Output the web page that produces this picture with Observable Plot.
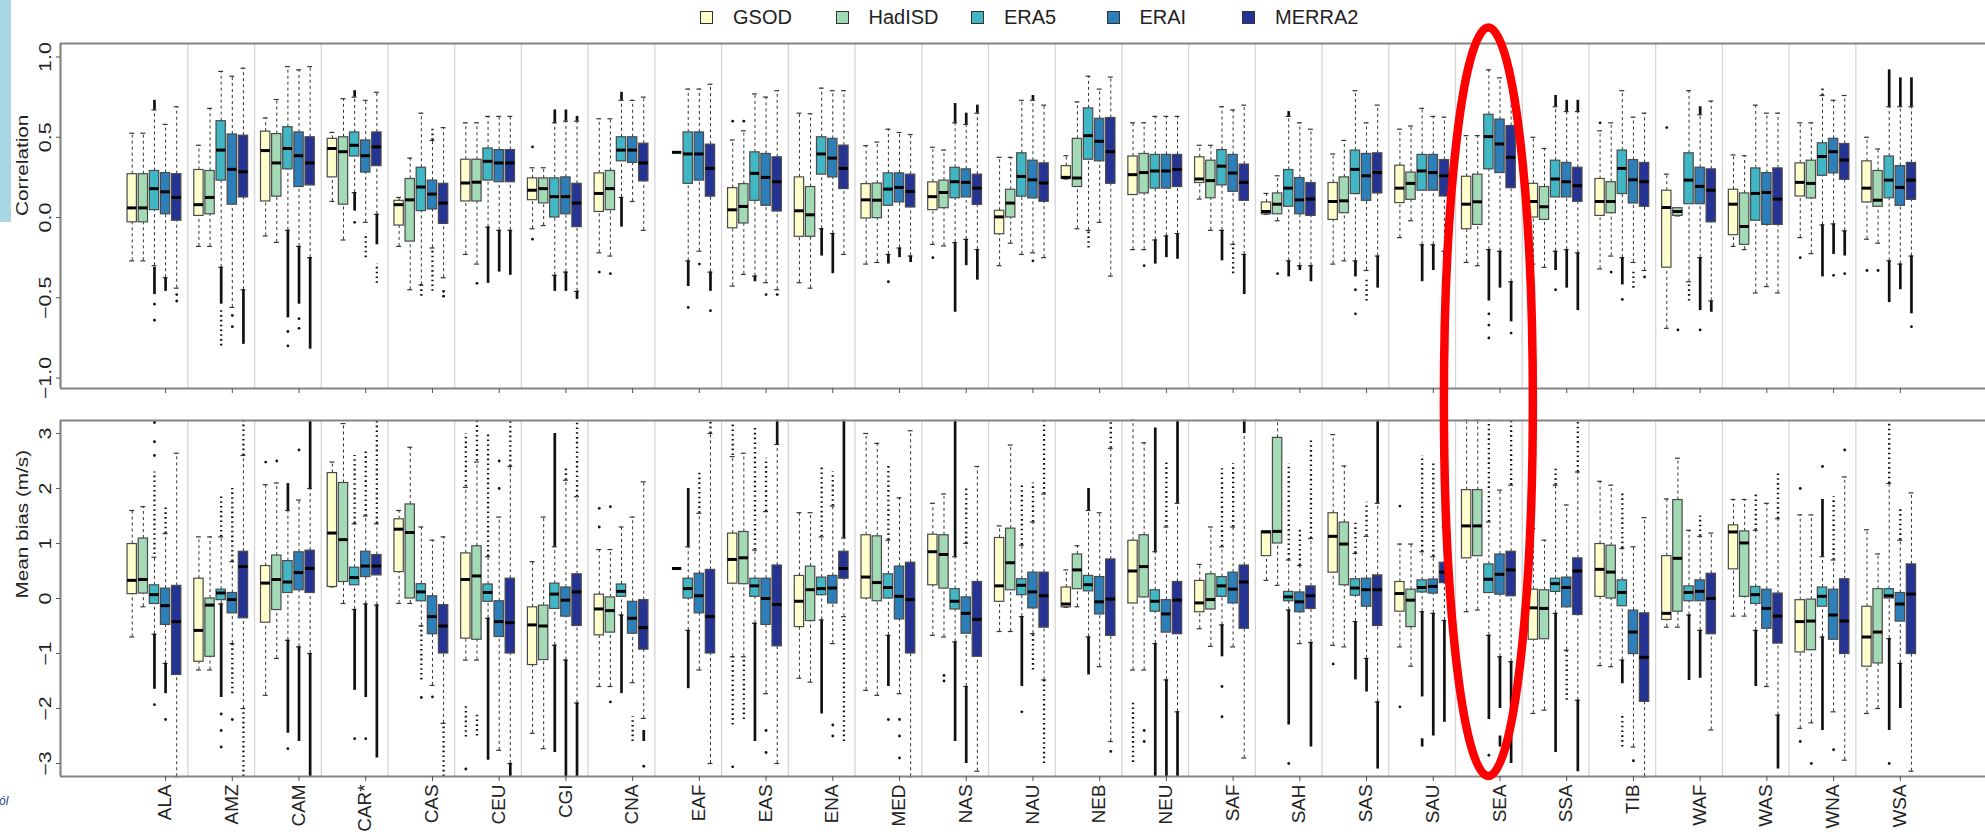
<!DOCTYPE html>
<html><head><meta charset="utf-8">
<script src="https://cdn.jsdelivr.net/npm/d3@7"></script>
<script src="https://cdn.jsdelivr.net/npm/@observablehq/plot@0.6"></script>
<style>
body{margin:0;background:#fff;font-family:"Liberation Sans",Arial,sans-serif;}
#wrap{position:relative;width:1985px;height:832px;overflow:hidden;background:#fff;}
#wrap svg.panel{position:absolute;left:0;}
.lg-sw{position:absolute;width:11px;height:11px;border:1px solid #333;top:11px;}
.lg-tx{position:absolute;top:5px;font-size:20px;line-height:24px;color:#222;}
</style></head><body><div id="wrap"></div>
<script>
const regions = ["ALA","AMZ","CAM","CAR*","CAS","CEU","CGI","CNA","EAF","EAS","ENA","MED","NAS","NAU","NEB","NEU","SAF","SAH","SAS","SAU","SEA","SSA","TIB","WAF","WAS","WNA","WSA"];
const datasets = ["GSOD","HadISD","ERA5","ERAI","MERRA2"];
const colors = ["#ffffcc","#a1dab4","#41b6c4","#2c7fb8","#253494"];
const corrTicks = [-1,-0.5,0,0.5,1];
const biasTicks = [-3,-2,-1,0,1,2,3];

// box stats per region: [lower whisker, Q1, median, Q3, upper whisker]
const corrGSOD = [
[-0.27,-0.03,0.06,0.27,0.525],[-0.18,0.01,0.08,0.296,0.45],[-0.115,0.1,0.417,0.535,0.62],[0.10,0.25,0.43,0.49,0.53],
[-0.18,-0.05,0.08,0.104,0.125],[-0.23,0.1,0.215,0.36,0.59],[-0.07,0.108,0.17,0.244,0.31],[-0.22,0.035,0.15,0.275,0.615],
null,[-0.427,-0.067,0.048,0.183,0.483],[-0.406,-0.12,0.042,0.25,0.65],[-0.29,-0.006,0.11,0.208,0.448],
[-0.167,0.046,0.13,0.219,0.4375],[-0.3,-0.104,0.004,0.042,0.375],[0.24,0.24,0.25,0.32,0.385],[-0.2,0.14,0.267,0.38,0.59],
[0.115,0.215,0.24,0.375,0.45],[0.02,0.02,0.0375,0.094,0.15],[-0.29,-0.015,0.1,0.215,0.396],[-0.125,0.09,0.183,0.323,0.55],
[-0.28,-0.073,0.083,0.254,0.51],[-0.29,0.0,0.1,0.21,0.5],[-0.32,0.01,0.1,0.24,0.54],[-0.69,-0.3125,0.0625,0.167,0.27],
[-0.18,-0.11,0.083,0.173,0.39],[-0.125,0.131,0.219,0.3375,0.59],[-0.135,0.094,0.183,0.35,0.5]];
const corrHadISD = [
[-0.27,-0.03,0.06,0.27,0.525],[-0.18,0.02,0.125,0.29,0.68],[-0.155,0.13,0.34,0.52,0.735],[-0.14,0.08,0.41,0.5,0.74],
[-0.45,-0.15,0.11,0.24,0.37],[-0.29,0.1,0.22,0.36,0.59],[-0.05,0.088,0.18,0.244,0.31],[-0.24,0.046,0.18,0.29,0.615],
[0.406,0.406,0.406,0.406,0.406],[-0.354,-0.037,0.069,0.208,0.54],[-0.44,-0.12,0.017,0.19,0.646],[-0.28,-0.004,0.108,0.212,0.47],
[-0.177,0.058,0.156,0.23,0.42],[-0.16,0.0,0.09,0.173,0.375],[-0.07,0.19,0.246,0.49,0.72],[-0.2,0.15,0.28,0.396,0.59],
[-0.08,0.12,0.23,0.354,0.45],[-0.02,0.02,0.083,0.15,0.26],[-0.27,0.027,0.104,0.25,0.48],[-0.02,0.11,0.2125,0.28,0.57],
[-0.3,-0.046,0.098,0.267,0.51],[-0.31,-0.015,0.067,0.19,0.43],[-0.24,0.027,0.1,0.22,0.59],[0.01,0.01,0.0375,0.058,0.058],
[-0.2,-0.17,-0.056,0.15,0.385],[-0.225,0.119,0.2125,0.354,0.59],[-0.16,0.067,0.108,0.29,0.427]];
const corrERA5 = [
[-0.3,0.046,0.18,0.29,0.67],[-0.31,0.23,0.42,0.6,0.91],[-0.08,0.3,0.43,0.5625,0.94],[0.155,0.38,0.45,0.53,0.75],
[-0.42,0.04,0.19,0.31,0.65],[-0.06,0.23,0.35,0.43,0.63],[-0.36,0.0,0.13,0.244,0.59],[0.125,0.35,0.42,0.5,0.73],
[-0.27,0.21,0.396,0.53,0.8],[-0.365,0.104,0.275,0.406,0.77],[-0.07,0.267,0.396,0.5,0.806],[-0.23,0.073,0.177,0.275,0.55],
[-0.156,0.12,0.223,0.31,0.59],[-0.23,0.13,0.256,0.4,0.73],[-0.08,0.36,0.51,0.68,0.88],[-0.14,0.18,0.29,0.39,0.63],
[-0.08,0.2,0.32,0.42,0.69],[-0.27,0.067,0.183,0.296,0.63],[-0.27,0.146,0.3,0.417,0.79],[-0.17,0.167,0.29,0.39,0.68],
[-0.2,0.3,0.504,0.64,0.92],[-0.21,0.125,0.24,0.354,0.69],[-0.25,0.146,0.306,0.417,0.79],[-0.4,0.083,0.233,0.4,0.79],
[-0.47,-0.02,0.15,0.306,0.7],[-0.046,0.26,0.38,0.4625,0.76],[-0.27,0.12,0.233,0.38,0.69]];
const corrERAI = [
[-0.375,0.02,0.16,0.277,0.58],[-0.56,0.08,0.3,0.517,0.88],[-0.18,0.19,0.385,0.53,0.92],[-0.03,0.28,0.385,0.48,0.73],
[-0.19,0.05,0.146,0.23,0.48],[-0.08,0.22,0.34,0.42,0.63],[-0.34,0.02,0.13,0.25,0.6],[0.1,0.34,0.42,0.5,0.73],
[-0.21,0.23,0.396,0.53,0.8],[-0.406,0.073,0.25,0.396,0.75],[-0.1,0.25,0.37,0.49,0.79],[-0.19,0.094,0.1875,0.275,0.53],
[-0.136,0.125,0.219,0.3,0.58],[-0.22,0.119,0.235,0.354,0.73],[-0.03,0.35,0.475,0.615,0.8],[-0.115,0.18,0.29,0.39,0.63],
[-0.167,0.16,0.277,0.39,0.67],[-0.3,0.02,0.11,0.246,0.59],[-0.33,0.104,0.26,0.396,0.59],[-0.17,0.167,0.28,0.39,0.63],
[-0.21,0.277,0.458,0.61,0.87],[-0.2,0.125,0.223,0.34,0.66],[-0.28,0.0875,0.235,0.358,0.625],[-0.25,0.083,0.194,0.31,0.64],
[-0.43,-0.046,0.156,0.277,0.65],[-0.04,0.275,0.41,0.49,0.73],[-0.29,0.073,0.1875,0.32,0.69]];
const corrMERRA2 = [
[-0.44,-0.02,0.125,0.27,0.69],[-0.45,0.125,0.285,0.51,0.93],[-0.25,0.2,0.34,0.5,0.94],[0.02,0.32,0.44,0.53,0.78],
[-0.375,-0.04,0.09,0.21,0.56],[-0.08,0.22,0.34,0.42,0.63],[-0.46,-0.06,0.09,0.21,0.6],[-0.08,0.225,0.34,0.46,0.75],
[-0.34,0.13,0.306,0.454,0.83],[-0.45,0.0375,0.223,0.375,0.79],[-0.23,0.177,0.306,0.448,0.79],[-0.24,0.0625,0.1625,0.267,0.517],
[-0.2,0.079,0.183,0.267,0.65],[-0.25,0.098,0.215,0.3375,0.7],[-0.365,0.21,0.41,0.62,0.875],[-0.1,0.19,0.3,0.39,0.63],
[-0.23,0.104,0.219,0.33,0.7],[-0.3,0.01,0.115,0.215,0.55],[-0.24,0.15,0.28,0.4,0.7],[-0.21,0.131,0.26,0.358,0.625],
[-0.4,0.183,0.375,0.57,0.9],[-0.22,0.098,0.198,0.31,0.66],[-0.33,0.067,0.223,0.34,0.65],[-0.52,-0.03,0.17,0.3,0.725],
[-0.47,-0.046,0.115,0.306,0.65],[-0.083,0.235,0.358,0.458,0.76],[-0.24,0.11,0.233,0.34,0.69]];

// outliers per region: number = single point, [a,b] = dense run, [a,b,1] = sparse run
const corrOutGSOD = [[],[],[],[],[],[],[0.44,-0.135],[-0.34],[],[0.6],[],[],[-0.25],[],[],[],[],[],[],[],[],[],[0.59],[0.56],[],[-0.25],[-0.33]];
const corrOutHadISD = [[],[],[],[],[],[-0.41],[],[-0.35],[],[0.6],[],[],[],[],[],[-0.3],[],[-0.35],[],[],[],[],[-0.34],[-0.7],[],[],[-0.33]];
const corrOutERA5 = [
[[-0.48,-0.31],[0.67,0.73],-0.54,-0.64],[[-0.54,-0.31],[-0.8,-0.58,1]],[[-0.625,-0.08],-0.71,-0.8],[[0.75,0.79],[0.04,0.155],-0.03],
[[-0.49,-0.42,1]],[[-0.41,-0.06]],[[0.59,0.67],[-0.46,-0.36]],[[0.73,0.78],[-0.06,0.125]],
[[-0.43,-0.27],-0.56],[[-0.4,-0.365]],[[-0.24,-0.07]],[[-0.29,-0.23],-0.4],
[[0.59,0.71],[-0.59,-0.156]],[],[[-0.19,-0.08,1]],[[-0.29,-0.14]],
[[-0.27,-0.08]],[[0.63,0.66],[-0.37,-0.27]],[[-0.37,-0.27],-0.45,-0.6],[[-0.4,-0.17]],
[[-0.52,-0.2],-0.6,-0.67,-0.75],[[0.69,0.76],[-0.33,-0.21],-0.45],[[-0.42,-0.25],-0.51],[[-0.52,-0.4,1]],
[],[[0.76,0.82,1],[-0.37,-0.046]],[[0.69,0.92],[-0.53,-0.27]]];
const corrOutERAI = [
[[-0.46,-0.375]],[-0.61,-0.68],[[-0.54,-0.18],-0.63,-0.69],[[-0.25,-0.1,1]],
[[0.48,0.57,1],[-0.46,-0.19,1]],[[-0.34,-0.08]],[[0.6,0.67],[-0.46,-0.34]],[],
[-0.29],[-0.48],[[-0.35,-0.1]],[[-0.25,-0.19]],
[[0.58,0.65],[-0.3,-0.136]],[[0.73,0.76],-0.27],[],[[-0.25,-0.115]],
[[-0.35,-0.167,1]],[[-0.33,-0.3]],[[-0.52,-0.38,1]],[[-0.33,-0.17]],
[[-0.44,-0.21]],[[0.66,0.73],[-0.44,-0.2]],[[-0.44,-0.32,1]],[[0.64,0.69],[-0.58,-0.25],-0.7],
[],[[-0.23,-0.04],-0.36],[[0.69,0.87],[-0.45,-0.29]]];
const corrOutMERRA2 = [
[-0.48,-0.52],[[-0.79,-0.45]],[[-0.82,-0.25]],[[-0.17,0.02],[-0.41,-0.29,1]],
[-0.46,-0.49],[[-0.36,-0.08]],[[0.6,0.63],[-0.51,-0.46]],[],
[[-0.46,-0.34],-0.58],[-0.48],[],[[-0.28,-0.24]],
[[0.65,0.7],[-0.39,-0.2]],[],[],[[-0.26,-0.1]],
[[-0.48,-0.23]],[[-0.4,-0.3]],[[-0.44,-0.24]],[[-0.44,-0.21]],
[[-0.65,-0.4],-0.72],[[0.66,0.73],[-0.58,-0.22]],[-0.37],[[-0.59,-0.52]],
[],[[-0.24,-0.083],-0.35],[[0.69,0.87],[-0.6,-0.24],-0.68]];

const biasGSOD = [
[-0.7,0.08,0.33,0.99,1.6],[-1.3,-1.15,-0.58,0.36,1.12],[-1.76,-0.44,0.28,0.59,2.07],[0.21,0.21,1.19,2.28,2.48],
[-0.09,0.48,1.26,1.44,1.6],[-1.12,-0.73,0.345,0.82,2.02],[-2.45,-1.21,-0.48,-0.16,0.67],[-1.6,-0.67,-0.19,0.07,0.89],
null,[-1.06,0.27,0.71,1.18,2.58],[-1.45,-0.52,-0.05,0.41,1.56],[-1.67,0.0,0.39,1.15,3.0],
[-0.67,0.24,0.85,1.16,1.73],[-0.6,-0.06,0.23,1.1,1.32],[-0.16,-0.16,-0.1,0.2,0.52],[-1.3,-0.09,0.5,1.05,3.24],
[-0.55,-0.25,-0.08,0.32,0.62],[0.33,0.77,1.21,1.22,1.22],[-0.85,0.47,1.13,1.55,2.98],[-0.88,-0.24,0.09,0.3,0.99],
[-0.24,0.73,1.32,1.97,3.24],[-2.09,-0.75,-0.17,0.16,1.27],[-1.22,0.03,0.53,0.99,2.13],[-0.52,-0.39,-0.27,0.77,1.81],
[-0.32,0.53,1.21,1.33,1.8],[-2.36,-0.98,-0.42,-0.03,1.52],[-2.09,-1.24,-0.7,-0.15,1.25]];
const biasHadISD = [
[-0.15,0.09,0.345,1.09,1.67],[-1.3,-1.06,-0.12,0.0,1.12],[-1.09,-0.21,0.345,0.78,2.1],[-0.09,0.3,1.07,2.1,3.18],
[-0.09,0.0,1.2,1.71,2.75],[-1.12,-0.75,0.41,0.95,2.48],[-2.73,-1.12,-0.5,-0.13,1.48],[-1.6,-0.62,-0.22,0.02,0.89],
[0.545,0.545,0.545,0.545,0.545],[-1.06,0.26,0.74,1.21,2.64],[-1.52,-0.41,0.16,0.58,1.56],[-1.76,-0.05,0.29,1.13,2.82],
[-0.7,0.18,0.8,1.15,1.9],[-0.6,0.15,0.65,1.27,2.79],[-0.15,0.17,0.52,0.8,0.96],[-1.3,0.02,0.58,1.15,2.83],
[-0.87,-0.2,-0.02,0.44,1.3],[0.24,1.0,1.22,2.92,3.24],[-0.88,0.24,0.99,1.38,2.41],[-1.23,-0.52,-0.03,0.16,0.99],
[-0.21,0.77,1.32,1.97,3.24],[-2.03,-0.74,-0.18,0.15,1.06],[-1.24,0.0,0.48,0.96,2.06],[-0.52,-0.24,0.73,1.79,2.55],
[-0.32,0.03,1.01,1.22,1.8],[-2.26,-0.94,-0.41,-0.02,1.52],[-2.0,-1.18,-0.61,0.17,0.81]];
const biasERA5 = [
[-0.65,-0.1,0.07,0.24,0.75],[-0.1,-0.03,0.1,0.16,1.12],[-0.76,0.1,0.3,0.68,1.6],[-0.2,0.24,0.38,0.56,1.36],
[-0.5,-0.05,0.12,0.26,1.3],[-0.36,-0.06,0.11,0.255,0.76],[-0.85,-0.19,0.08,0.27,0.94],[-0.3,0.03,0.13,0.255,1.3],
[-0.58,0.0,0.18,0.36,0.94],[-0.45,0.03,0.23,0.36,0.88],[-0.39,0.06,0.18,0.38,1.12],[-0.67,0.0,0.2,0.44,1.06],
[-0.79,-0.2,-0.05,0.17,0.76],[-0.33,0.06,0.24,0.35,0.97],[-0.7,0.13,0.25,0.41,1.6],[-0.82,-0.24,-0.05,0.15,0.85],
[-0.48,0.03,0.23,0.39,0.94],[-0.21,-0.05,0.03,0.12,0.7],[-0.42,0.05,0.19,0.35,0.82],[-0.24,0.11,0.2,0.33,0.85],
[-0.67,0.1,0.35,0.62,1.39],[-0.27,0.12,0.27,0.36,2.06],[-1.12,-0.14,0.11,0.33,0.91],[-0.3,-0.05,0.11,0.22,1.24],
[-0.58,-0.1,0.07,0.21,1.24],[-0.7,-0.15,0.04,0.2,0.76],[-0.73,0.0,0.05,0.17,2.09]];
const biasERAI = [
[-1.18,-0.48,-0.13,0.18,1.18],[-0.82,-0.27,-0.02,0.1,0.67],[-0.88,0.15,0.47,0.84,1.79],[-0.1,0.39,0.59,0.85,1.5],
[-1.58,-0.65,-0.33,0.04,1.06],[-2.76,-0.7,-0.42,-0.05,1.48],[-1.12,-0.33,-0.03,0.2,2.15],[-1.53,-0.64,-0.36,-0.06,1.48],
[-1.3,-0.27,0.05,0.45,1.55],[-1.73,-0.48,0.0,0.36,1.58],[-0.82,-0.09,0.19,0.41,1.68],[-1.73,-0.38,0.04,0.58,1.83],
[-1.6,-0.64,-0.27,0.02,1.0],[-0.64,-0.18,0.12,0.47,1.39],[-1.24,-0.29,-0.06,0.39,1.56],[-1.48,-0.62,-0.28,-0.03,1.3],
[-0.88,-0.09,0.17,0.47,1.3],[-0.82,-0.25,-0.06,0.11,0.6],[-1.09,-0.15,0.16,0.36,1.13],[-0.27,0.09,0.22,0.345,0.76],
[-1.06,0.07,0.44,0.8,1.97],[-0.94,-0.16,0.2,0.38,1.7],[-2.7,-1.01,-0.61,-0.22,0.94],[-0.58,-0.05,0.13,0.33,1.13],
[-1.6,-0.55,-0.18,0.16,1.73],[-2.06,-0.75,-0.3,0.16,0.7],[-1.18,-0.42,-0.1,0.1,1.06]];
const biasMERRA2 = [
[-3.24,-1.39,-0.42,0.23,2.64],[-2.0,-0.36,0.58,0.85,2.6],[-1.0,0.1,0.545,0.87,2.0],[-0.12,0.42,0.59,0.79,1.36],
[-2.27,-1.0,-0.5,-0.12,1.12],[-3.0,-1.0,-0.44,0.36,2.4],[-1.9,-0.5,0.12,0.44,1.85],[-2.18,-0.93,-0.53,-0.03,2.12],
[-3.0,-1.0,-0.33,0.52,3.0],[-3.0,-0.87,-0.11,0.6,2.8],[-0.33,0.36,0.545,0.85,1.1],[-3.24,-1.0,-0.02,0.65,3.05],
[-3.14,-1.06,-0.38,0.3,2.4],[-1.48,-0.53,0.05,0.47,1.9],[-2.6,-0.68,-0.01,0.71,2.73],[-2.06,-0.65,-0.03,0.3,1.73],
[-2.9,-0.55,0.3,0.6,3.24],[-0.8,-0.19,0.05,0.22,1.09],[-1.88,-0.5,0.16,0.42,1.73],[-0.4,0.28,0.48,0.65,1.3],
[-1.15,0.04,0.52,0.85,2.06],[-1.85,-0.3,0.5,0.73,2.3],[-3.24,-1.88,-1.07,-0.27,1.47],[-2.39,-0.65,0.0,0.45,1.19],
[-2.12,-0.82,-0.32,0.09,1.45],[-2.94,-1.01,-0.41,0.35,2.21],[-3.14,-1.01,0.08,0.62,1.92]];

const biasOutGSOD = [[],[],[2.48],[],[],[[2.03,3.0,1],[-2.52,-1.91,1],-3.1],[],[1.64,1.3],[],[[2.6,3.2,1],[-2.3,-1.06,1],-3.06],[],[],[],[],[],[[-2.98,-1.9,1]],[],[],[-1.19],[-1.97,1.68],[],[],[],[],[],[2.0,-2.6],[]];
const biasOutHadISD = [[],[],[2.5],[],[],[[2.5,3.24,1],[-2.5,-2.1,1]],[],[1.67,-1.88],[],[[-2.2,-1.06,1]],[],[],[-1.4,-1.5],[],[],[-2.4,-2.6],[],[],[],[],[],[],[],[],[],[-3.0],[]];
const biasOutERA5 = [
[[0.8,2.3,1],2.6,2.85,3.2,[-1.65,-0.65],-1.93],[[1.12,1.88,1],[-1.8,-0.1],-2.1,-2.4,-2.7],[[1.6,2.09],[-2.45,-0.76],-2.73],[[1.36,2.6,1],[-1.67,-0.2],-2.55],
[[-1.48,-0.5,1],-1.8],[[0.76,3.0,1],[-2.94,-0.36]],[[0.94,3.0],[-2.8,-0.85]],[[-1.73,-0.3]],
[[0.94,2.0],[-1.64,-0.58]],[[0.88,3.1,1],[-2.6,-0.45]],[[1.12,2.4,1],[-2.1,-0.39]],[[1.06,2.4,1],[-1.6,-0.67],-2.2],
[[0.76,3.24],[-2.6,-0.79]],[[0.97,2.1,1],[-1.6,-0.33],-2.06],[[1.6,2.0],[-1.39,-0.7]],[[0.85,3.1],[-3.24,-0.82]],
[[0.94,2.36,1],[-1.06,-0.48],-1.6,-2.15],[[0.7,2.45,1],[-2.3,-0.21],-3.0],[[0.82,1.37,1],[-1.48,-0.42]],[[0.85,2.6,1],[-1.79,-0.24],[-2.7,-2.55]],
[[1.39,3.24,1],[-2.2,-0.67],-2.85],[[2.06,2.4,1],[-2.8,-0.27]],[[0.91,1.9,1],[-1.55,-1.12],[-2.7,-2.1,1]],[[-1.49,-0.3]],
[[1.24,1.9,1],[-1.6,-0.58]],[[0.76,1.8],2.4,[-2.4,-0.7]],[[2.09,3.2,1],[-2.4,-0.73],-3.0]];
const biasOutERAI = [
[[1.18,1.67,1],[-1.73,-1.18],-2.2],[[0.67,2.0,1],[-1.73,-0.82,1],-2.2],[[-2.6,-0.88],2.7],[[1.5,2.7,1],[-1.8,-0.1],-2.55],
[-1.79],[2.0,2.5],[[2.15,2.4,1],[-3.24,-1.12]],[[-2.6,-2.15,1]],
[[1.55,2.3,1]],[[1.58,2.55,1],-2.4,-2.8],[[1.68,2.3,1],-2.3,-2.5],[-2.2,-2.5,-2.9],
[[1.0,2.0,1],[-3.0,-1.6]],[[1.39,2.1,1],[-1.3,-0.64,1]],[],[[1.3,2.5,1],[-3.24,-1.48]],
[[1.3,2.45,1]],[[0.6,1.25,1]],[[1.13,1.75,1],[-1.7,-1.09]],[[0.76,2.5,1],[-2.5,-0.27]],
[[-2.0,-1.06],[-2.7,-2.5]],[[-1.85,-0.94,1]],[-2.95],[[1.13,1.5,1],[-1.45,-0.58]],
[],[[0.7,1.85,1],-2.75],[[1.06,1.67,1],[-2.0,-1.18]]];
const biasOutMERRA2 = [
[],[[2.6,3.24,1],[-3.24,-2.0,1]],[[2.0,3.24],[-3.24,-1.0]],[[1.36,3.24,1],[-2.9,-0.12]],
[[-3.24,-2.27,1]],[[2.4,3.24,1],[-3.24,-3.0]],[[1.85,3.24,1],[-3.24,-1.9]],[[-2.6,-2.4],-3.05],
[[3.0,3.24,1]],[[2.8,3.24]],[[1.1,3.24],[-2.6,-0.33,1]],[],
[],[[1.9,3.24,1],[-3.0,-1.48,1]],[[2.73,3.24,1],-2.78],[[1.73,3.24],[-3.24,-2.06]],
[[3.0,3.24]],[[1.09,2.9,1],[-2.7,-0.8]],[[1.73,3.24],[-3.1,-1.88]],[[-2.25,-0.4]],
[[2.06,3.24,1],[-3.0,-1.15]],[[2.3,3.24,1],[-3.15,-1.85]],[],[],
[[1.45,2.27,1],[-3.1,-2.12]],[2.7],[]];

const W = 1985, XMIN = -5.45, XMAX = 167.66, ML = 60;
const STRETCH_TICK = 1.3, STRETCH_TITLE = 1.22, STRETCH_LABEL = 1.08;

function panel(opts) {
  const {boxes, outs, yDomain, yTicks, fmt, title, height, marginTop, marginBottom, labels} = opts;
  const rows = [], pts = [], dense = [], sparse = [];
  datasets.forEach((ds, j) => {
    boxes[j].forEach((b, i) => {
      if (!b) return;
      const p = 6 * i + j + 1;
      rows.push({p, ds, lo: b[0], q1: b[1], med: b[2], q3: b[3], hi: b[4]});
      (outs[j][i] || []).forEach(o => {
        if (typeof o === "number") pts.push({p, v: o});
        else (o[2] === 1 ? sparse : dense).push({p, a: o[0], b: o[1]});
      });
    });
  });
  const seps = d3.range(1, regions.length).map(k => 6 * k);
  const tickPs = regions.map((r, i) => 6 * i + 4);
  const kx = (W - ML) / (XMAX - XMIN);
  const ky = (height - marginTop - marginBottom) / (yDomain[1] - yDomain[0]);
  const marks = [
    Plot.ruleX(seps, {x: d => d, stroke: "#d6d6d6", strokeWidth: 1.3}),
    Plot.ruleX(rows, {x: "p", y1: "q3", y2: "hi", stroke: "#333", strokeWidth: 1, strokeDasharray: "3,3"}),
    Plot.ruleX(rows, {x: "p", y1: "lo", y2: "q1", stroke: "#333", strokeWidth: 1, strokeDasharray: "3,3"}),
    Plot.ruleY(rows, {y: "hi", x1: d => d.p - 0.22, x2: d => d.p + 0.22, stroke: "#333", strokeWidth: 1.2}),
    Plot.ruleY(rows, {y: "lo", x1: d => d.p - 0.22, x2: d => d.p + 0.22, stroke: "#333", strokeWidth: 1.2}),
    Plot.ruleX(dense, {x: "p", y1: "a", y2: "b", stroke: "#111", strokeWidth: 2.7}),
    Plot.ruleX(sparse, {x: "p", y1: "a", y2: "b", stroke: "#111", strokeWidth: 2.3, strokeDasharray: "1.6,3.2"}),
    Plot.dot(pts, {x: "p", y: "v", r: 1.4, fill: "#111", stroke: null}),
    Plot.rect(rows.filter(d => d.q3 > d.q1), {x1: d => d.p - 0.42, x2: d => d.p + 0.42, y1: "q1", y2: "q3", fill: "ds", stroke: "#4a4a4a", strokeWidth: 1.2}),
    Plot.ruleY(rows, {y: "med", x1: d => d.p - 0.42, x2: d => d.p + 0.42, stroke: "#000", strokeWidth: 3}),
    Plot.ruleY(yDomain, {y: d => d, stroke: "#858585", strokeWidth: 2.2}),
    Plot.ruleX([XMIN], {x: d => d, stroke: "#858585", strokeWidth: 2.2}),
    Plot.ruleY(yTicks, {y: d => d, x1: XMIN - 4 / kx, x2: XMIN, stroke: "#555", strokeWidth: 1}),
    Plot.ruleX(tickPs, {x: d => d, y1: yDomain[0], y2: yDomain[0] - 5 / ky, stroke: "#555", strokeWidth: 1}),
    Plot.text(yTicks, {x: XMIN, y: d => d, text: d => fmt(d), rotate: -90, dx: -15, fontSize: 16.5, fill: "#222"}),
    Plot.text([title], {frameAnchor: "left", text: d => d, rotate: -90, dx: -38, fontSize: 17, fill: "#222"})
  ];
  if (labels) marks.push(Plot.text(regions, {x: (d, i) => 6 * i + 4, y: yDomain[0], text: d => d, rotate: -90, textAnchor: "end", dy: 8, fontSize: 17.5, fill: "#222"}));
  const svg = Plot.plot({
    width: W, height, marginLeft: ML, marginRight: 0, marginTop, marginBottom,
    x: {domain: [XMIN, XMAX], axis: null},
    y: {domain: yDomain, axis: null},
    color: {domain: datasets, range: colors},
    style: {fontFamily: '"Liberation Sans", Arial, sans-serif', background: "transparent"},
    marks
  });
  d3.select(svg).selectAll("text").each(function () {
    const t = this.getAttribute("transform");
    if (t && t.includes("rotate")) {
      const txt = this.textContent;
      const s = txt === title ? STRETCH_TITLE : regions.includes(txt) ? STRETCH_LABEL : STRETCH_TICK;
      this.setAttribute("transform", t + ` scale(${s},1)`);
    }
  });
  svg.classList.add("panel");
  return svg;
}

(function () {
  const wrap = document.getElementById("wrap");

  // light-blue strip and cut-off text at the left edge (parts of the page the figure was cut from)
  const strip = document.createElement("div");
  strip.style.cssText = "position:absolute;left:0;top:0;width:11px;height:222px;background:#aad5e3;";
  wrap.appendChild(strip);
  const frag = document.createElement("div");
  frag.textContent = "ól";
  frag.style.cssText = "position:absolute;left:-1px;top:794px;font-size:12px;font-style:italic;color:#2a3a8c;";
  wrap.appendChild(frag);

  const corrSvg = panel({boxes: [corrGSOD, corrHadISD, corrERA5, corrERAI, corrMERRA2],
    outs: [corrOutGSOD, corrOutHadISD, corrOutERA5, corrOutERAI, corrOutMERRA2],
    yDomain: [-1.065, 1.084], yTicks: corrTicks, fmt: d3.format(".1f"), title: "Correlation",
    height: 400, marginTop: 43, marginBottom: 12, labels: false});
  corrSvg.style.top = "0px";
  wrap.appendChild(corrSvg);

  const biasSvg = panel({boxes: [biasGSOD, biasHadISD, biasERA5, biasERAI, biasMERRA2],
    outs: [biasOutGSOD, biasOutHadISD, biasOutERA5, biasOutERAI, biasOutMERRA2],
    yDomain: [-3.236, 3.236], yTicks: biasTicks, fmt: d3.format("d"), title: "Mean bias (m/s)",
    height: 432, marginTop: 20, marginBottom: 56, labels: true});
  biasSvg.style.top = "400px";
  wrap.appendChild(biasSvg);

  // legend
  datasets.forEach((ds, k) => {
    const left = 700 + 135.5 * k;
    const sw = document.createElement("div");
    sw.className = "lg-sw"; sw.style.left = left + "px"; sw.style.background = colors[k];
    const tx = document.createElement("div");
    tx.className = "lg-tx"; tx.style.left = (left + 33) + "px"; tx.textContent = ds;
    wrap.appendChild(sw); wrap.appendChild(tx);
  });

  // red ellipse highlighting SEA, positioned through the panels' scales
  const sx = corrSvg.scale("x"), syT = corrSvg.scale("y"), syB = biasSvg.scale("y");
  const xs = d3.scaleLinear(sx.domain, sx.range);
  const ysT = d3.scaleLinear(syT.domain, syT.range);
  const ysB = d3.scaleLinear(syB.domain, syB.range);
  const seaIndex = regions.indexOf("SEA");
  const cx = xs(6 * seaIndex + 3);
  const rx = xs(6 * seaIndex + 3 + 4) - cx;
  const yTop = ysT(1.18), yBot = 400 + ysB(-3.236);
  const ov = d3.select(wrap).append("svg")
    .attr("width", W).attr("height", 832)
    .style("position", "absolute").style("left", "0px").style("top", "0px").style("pointer-events", "none");
  ov.append("ellipse").attr("cx", cx).attr("cy", (yTop + yBot) / 2).attr("rx", rx).attr("ry", (yBot - yTop) / 2)
    .attr("fill", "none").attr("stroke", "#ff0000").attr("stroke-width", 8.5);
})();
</script></body></html>
